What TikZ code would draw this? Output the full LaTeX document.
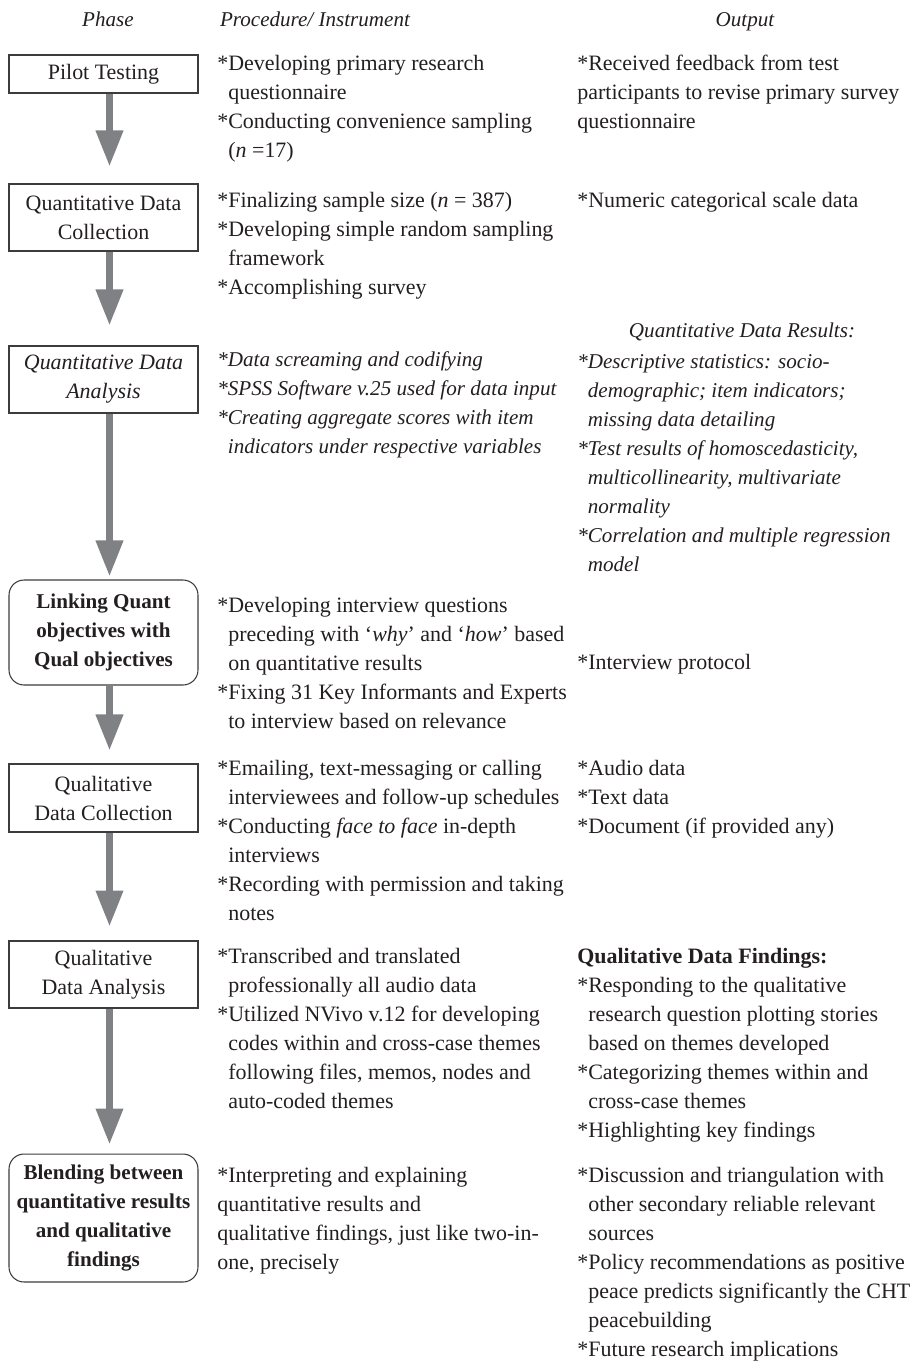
\documentclass[tikz,border=0pt]{standalone}
\usepackage{fontspec}
\setmainfont{Liberation Serif}
\usetikzlibrary{arrows.meta,positioning}
\definecolor{InkBlack}{RGB}{35,31,32}
\definecolor{FlowGray}{RGB}{128,129,132}
\definecolor{EdgeGray}{RGB}{60,60,60}
\tikzset{
  phase/.style={draw=EdgeGray,line width=0.6pt,text=InkBlack,minimum width=3.78cm,
    align=center,inner sep=0pt,font=\fontsize{12.5}{16.5}\selectfont},
  keyphase/.style={phase,rounded corners=0.3cm,font=\fontsize{12}{16.5}\selectfont\bfseries},
  entry/.style={anchor=north west,align=left,inner sep=0pt,text=InkBlack,
    font=\fontsize{12.5}{16.5}\selectfont},
  itentry/.style={entry,font=\fontsize{12}{16.5}\selectfont\itshape},
  head/.style={text=InkBlack,inner sep=0pt,anchor=base,font=\fontsize{12}{16.5}\selectfont\itshape},
  flow/.style={-{Triangle[width=0.52cm,length=0.72cm]},line width=0.14cm,FlowGray}
}

\begin{document}
\begin{tikzpicture}[
  x=0.02cm,
  y=-0.02cm
]
\useasboundingbox (0,0) rectangle (911,1366);

% column heads
\node[head] (hphase) at (108,26) {Phase};
\node[head] (hproc) at (315,26) {Procedure/ Instrument};
\node[head] (hout) at (745,26) {Output};

% phases
\node[phase,minimum height=0.76cm] (pilot) at (103.5,74) {Pilot Testing};
\node[phase,minimum height=1.34cm] (qndc) at (103.5,217.5) {Quantitative Data\\Collection};
\node[phase,minimum height=1.34cm,font=\fontsize{12.5}{16.5}\selectfont\itshape] (qnda) at (103.5,379.5)
  {Quantitative Data\\Analysis};
\node[keyphase,minimum height=2.1cm] (link) at (103.5,632.5)
  {Linking Quant\\objectives with\\Qual objectives};
\node[phase,minimum height=1.36cm] (qldc) at (103.5,798) {Qualitative\\Data Collection};
\node[phase,minimum height=1.34cm] (qlda) at (103.5,974.5) {Qualitative\\Data Analysis};
\node[keyphase,minimum height=2.56cm] (blend) at (103.5,1218)
  {Blending between\\quantitative results\\and qualitative\\findings};

% flow arrows
\draw[flow,shorten >=0.34cm] ([xshift=0.12cm]pilot.south) -- ([xshift=0.12cm]qndc.north);
\draw[flow,shorten >=0.4cm] ([xshift=0.12cm]qndc.south) -- ([xshift=0.12cm]qnda.north);
\draw[flow,shorten >=0.06cm] ([xshift=0.12cm]qnda.south) -- ([xshift=0.12cm]link.north);
\draw[flow,shorten >=0.26cm] ([xshift=0.12cm]link.south) -- ([xshift=0.12cm]qldc.north);
\draw[flow,shorten >=0.28cm] ([xshift=0.12cm]qldc.south) -- ([xshift=0.12cm]qlda.north);
\draw[flow,shorten >=0.18cm] ([xshift=0.12cm]qlda.south) -- ([xshift=0.12cm]blend.north);

% procedures
\node[entry] (pilotproc) at (217,55) {*Developing primary research\\
  \hphantom{*}questionnaire\\
  *Conducting convenience sampling\\
  \hphantom{*}(\textit{n} =17)};
\node[entry] (qndcproc) at (217,192) {*Finalizing sample size (\textit{n} = 387)\\
  *Developing simple random sampling\\
  \hphantom{*}framework\\
  *Accomplishing survey};
\node[itentry] (qndaproc) at (217,351) {*Data screaming and codifying\\
  *SPSS Software v.25 used for data input\\
  *Creating aggregate scores with item\\
  \hphantom{*}indicators under respective variables};
\node[entry] (linkproc) at (217,597) {*Developing interview questions\\
  \hphantom{*}preceding with `\textit{why}' and `\textit{how}' based\\
  \hphantom{*}on quantitative results\\
  *Fixing 31 Key Informants and Experts\\
  \hphantom{*}to interview based on relevance};
\node[entry] (qldcproc) at (217,760) {*Emailing, text-messaging or calling\\
  \hphantom{*}interviewees and follow-up schedules\\
  *Conducting \textit{face to face} in-depth\\
  \hphantom{*}interviews\\
  *Recording with permission and taking\\
  \hphantom{*}notes};
\node[entry] (qldaproc) at (217,948) {*Transcribed and translated\\
  \hphantom{*}professionally all audio data\\
  *Utilized NVivo v.12 for developing\\
  \hphantom{*}codes within and cross-case themes\\
  \hphantom{*}following files, memos, nodes and\\
  \hphantom{*}auto-coded themes};
\node[entry] (blendproc) at (217,1167) {*Interpreting and explaining\\
  quantitative results and\\
  qualitative findings, just like two-in-\\
  one, precisely};

% outputs
\node[entry] (pilotout) at (577,55) {*Received feedback from test\\
  participants to revise primary survey\\
  questionnaire};
\node[entry] (qndcout) at (577,192) {*Numeric categorical scale data};
\node[head] (qndahead) at (742,337) {Quantitative Data Results:};
\node[itentry] (qndaout) at (577,354) {*Descriptive statistics: socio-\\
  \hphantom{*}demographic; item indicators;\\
  \hphantom{*}missing data detailing\\
  *Test results of homoscedasticity,\\
  \hphantom{*}multicollinearity, multivariate\\
  \hphantom{*}normality\\
  *Correlation and multiple regression\\
  \hphantom{*}model};
\node[entry] (linkout) at (577,654) {*Interview protocol};
\node[entry] (qldcout) at (577,760) {*Audio data\\
  *Text data\\
  *Document (if provided any)};
\node[entry] (qldaout) at (577,948) {\textbf{Qualitative Data Findings:}\\
  *Responding to the qualitative\\
  \hphantom{*}research question plotting stories\\
  \hphantom{*}based on themes developed\\
  *Categorizing themes within and\\
  \hphantom{*}cross-case themes\\
  *Highlighting key findings};
\node[entry] (blendout) at (577,1167) {*Discussion and triangulation with\\
  \hphantom{*}other secondary reliable relevant\\
  \hphantom{*}sources\\
  *Policy recommendations as positive\\
  \hphantom{*}peace predicts significantly the CHT\\
  \hphantom{*}peacebuilding\\
  *Future research implications};
\end{tikzpicture}
\end{document}
